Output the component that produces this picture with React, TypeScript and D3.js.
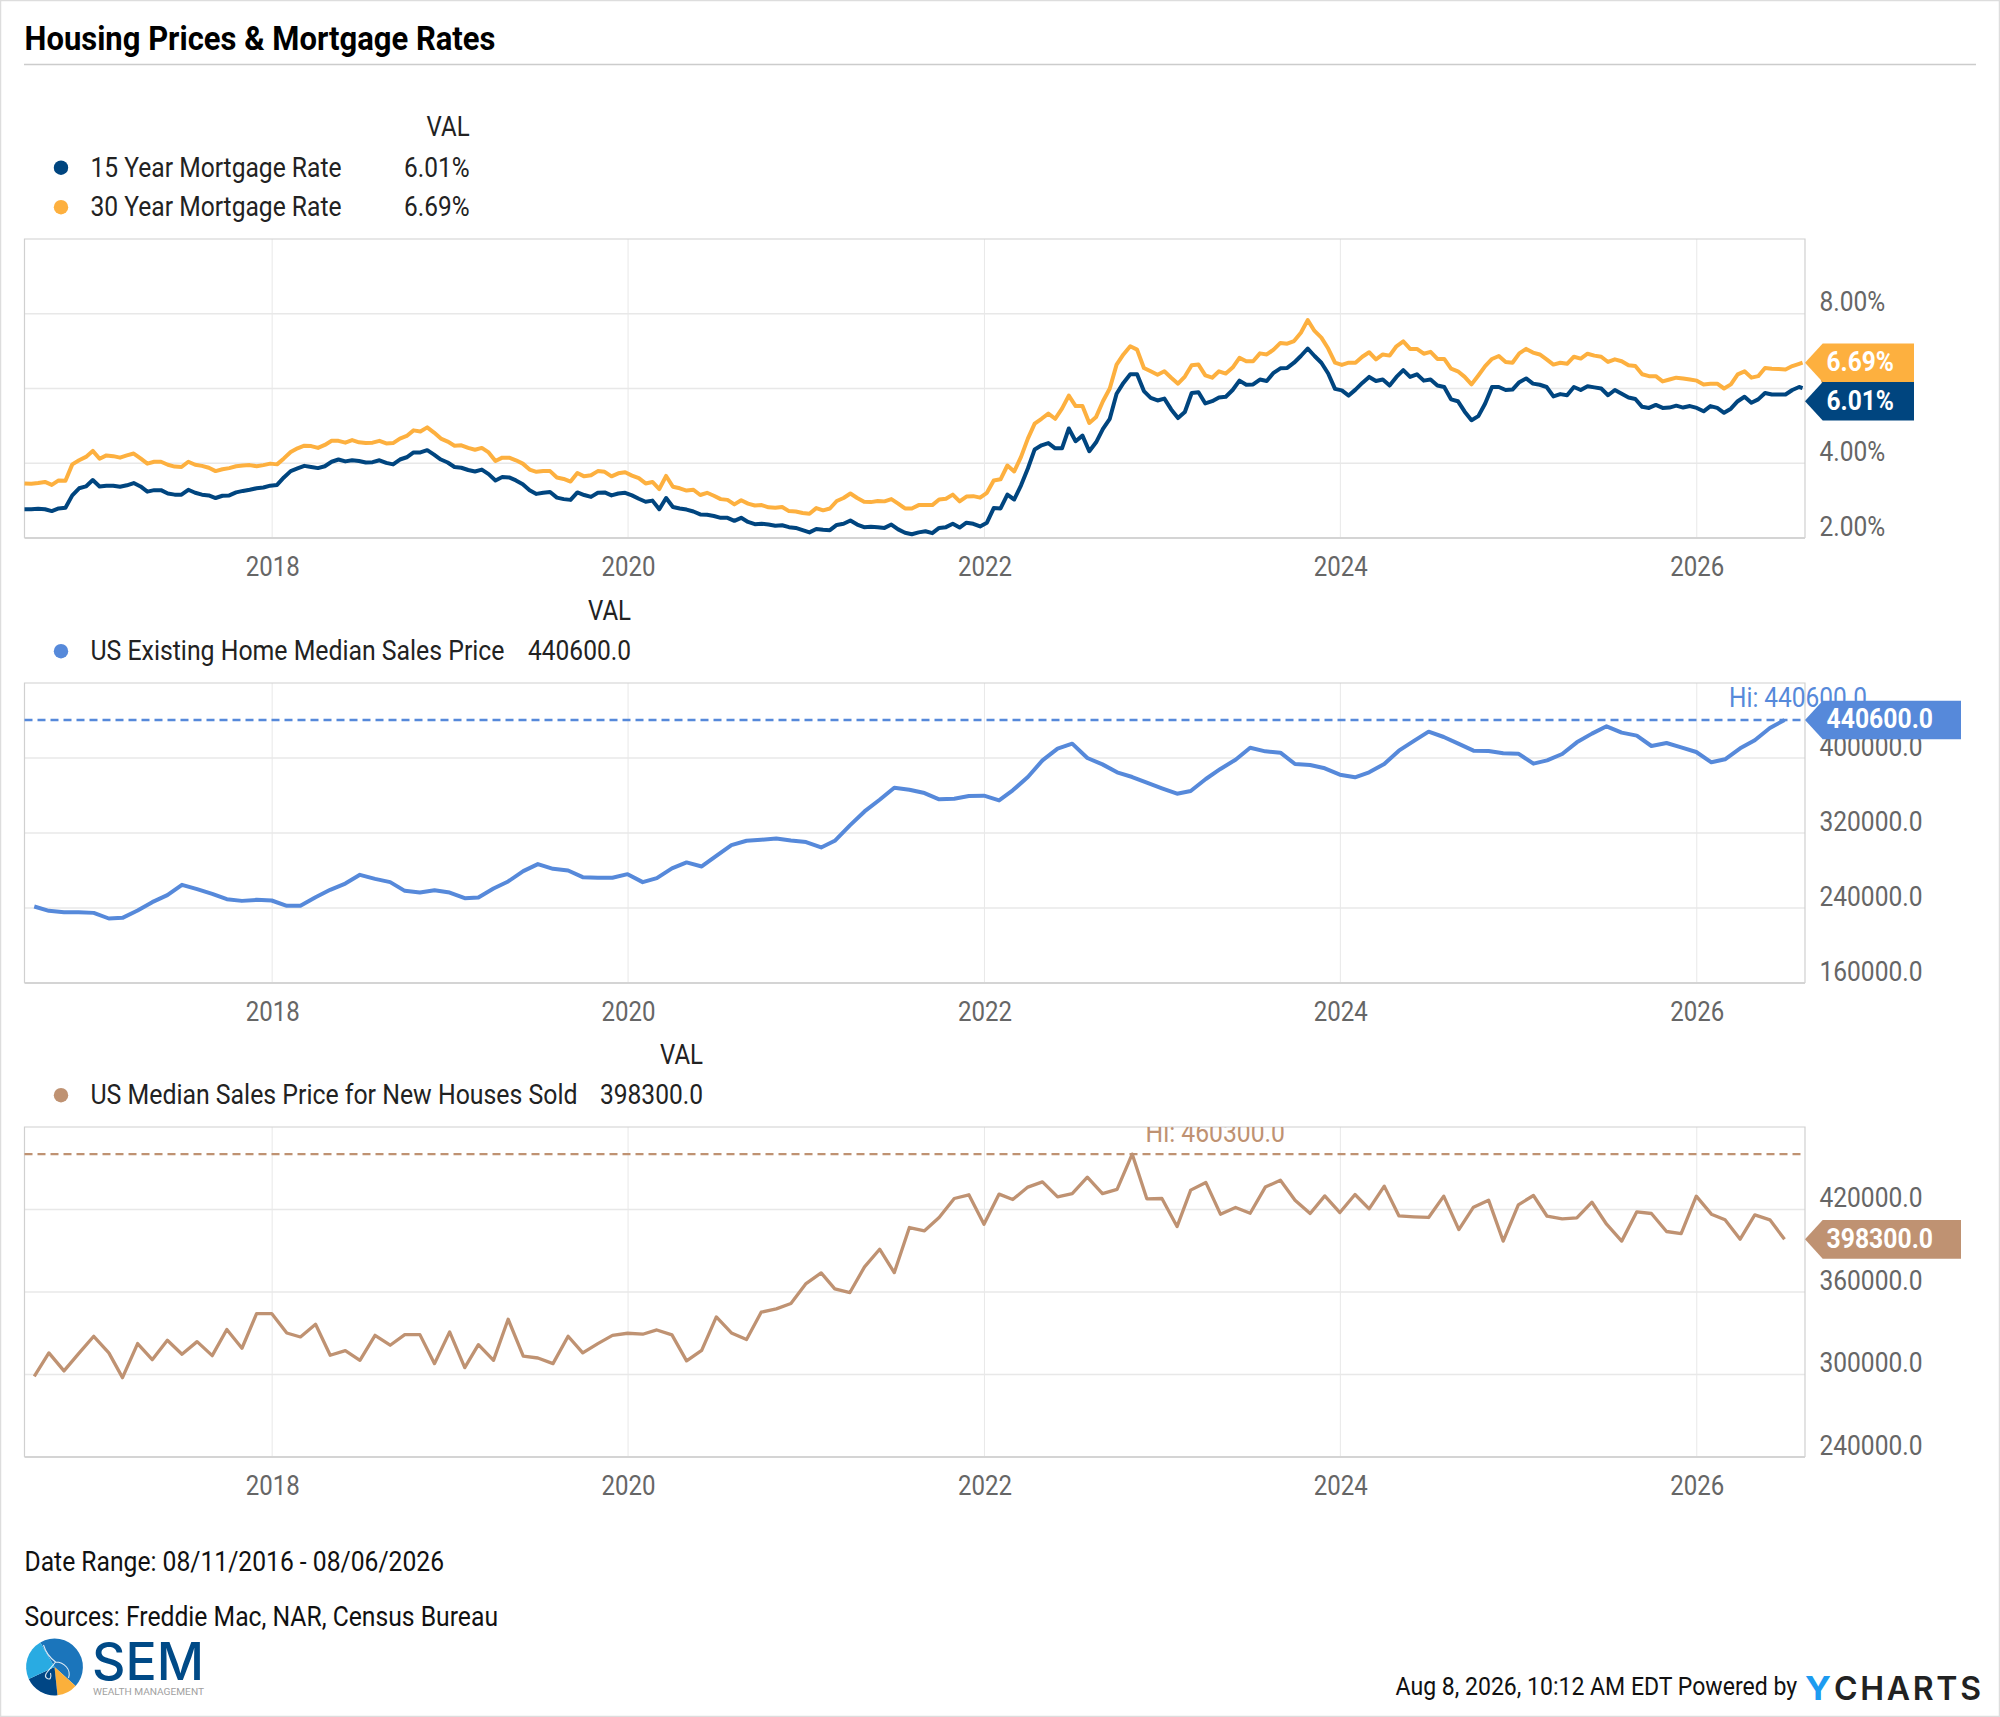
import React, { useEffect, useRef } from "react";
import * as d3 from "d3";

const rates30 = [
  3.46,3.45,3.47,3.50,3.42,3.54,3.53,3.97,4.08,4.17,4.33,4.12,4.21,4.19,4.15,4.21,4.26,4.13,3.99,4.04,4.04,3.96,3.91,3.90,4.04,3.96,3.93,3.88,3.79,3.84,
  3.87,3.92,3.94,3.95,3.92,3.95,3.99,3.97,4.13,4.30,4.40,4.47,4.46,4.41,4.49,4.60,4.60,4.55,4.62,4.56,4.54,4.55,4.60,4.53,4.54,4.66,4.73,4.88,4.85,4.96,
  4.82,4.66,4.58,4.47,4.48,4.41,4.36,4.41,4.29,4.06,4.15,4.15,4.08,3.99,3.83,3.77,3.79,3.79,3.62,3.58,3.51,3.74,3.65,3.68,3.79,3.77,3.65,3.73,3.76,3.67,
  3.60,3.46,3.50,3.31,3.66,3.37,3.33,3.27,3.29,3.15,3.21,3.13,3.04,3.02,2.90,3.01,2.92,2.87,2.88,2.82,2.81,2.83,2.72,2.71,2.67,2.65,2.80,2.74,2.79,2.99,
  3.07,3.19,3.07,2.97,2.96,2.99,2.98,3.04,2.92,2.79,2.79,2.88,2.88,2.88,3.03,3.05,3.16,2.98,3.11,3.12,3.08,3.21,3.54,3.57,3.94,3.78,4.17,4.66,5.06,
  5.19,5.33,5.19,5.46,5.81,5.53,5.53,5.08,5.24,5.66,6.00,6.64,6.91,7.13,7.04,6.55,6.46,6.37,6.46,6.29,6.13,6.32,6.62,6.64,6.35,6.29,6.46,6.40,6.56,6.82,
  6.73,6.73,6.94,6.91,7.04,7.22,7.20,7.27,7.49,7.83,7.54,7.36,7.07,6.69,6.63,6.69,6.69,6.85,6.97,6.78,6.91,6.88,7.13,7.26,7.06,7.06,6.93,6.98,6.79,6.79,
  6.53,6.46,6.31,6.11,6.35,6.60,6.79,6.87,6.71,6.69,6.94,7.06,6.96,6.91,6.78,6.64,6.69,6.66,6.85,6.80,6.93,6.88,6.85,6.71,6.78,6.73,6.62,6.60,6.38,6.33,
  6.33,6.19,6.24,6.29,6.27,6.24,6.21,6.11,6.13,6.13,6.00,6.11,6.38,6.46,6.29,6.33,6.55,6.53,6.52,6.51,6.60,6.66,6.69,
];

const rates15 = [
  2.77,2.77,2.78,2.77,2.72,2.79,2.81,3.14,3.33,3.38,3.55,3.38,3.40,3.40,3.37,3.41,3.47,3.38,3.24,3.28,3.28,3.19,3.16,3.16,3.29,3.21,3.16,3.14,3.07,3.13,
  3.14,3.22,3.26,3.29,3.33,3.35,3.40,3.42,3.62,3.79,3.86,3.93,3.90,3.87,3.92,4.04,4.10,4.05,4.08,4.06,4.02,4.03,4.08,4.01,3.97,4.10,4.16,4.29,4.29,4.35,
  4.23,4.10,4.02,3.90,3.88,3.82,3.78,3.83,3.71,3.54,3.63,3.62,3.54,3.44,3.28,3.18,3.21,3.23,3.08,3.04,3.02,3.22,3.15,3.10,3.21,3.22,3.14,3.19,3.21,3.14,
  3.05,2.97,3.00,2.77,3.07,2.83,2.79,2.76,2.71,2.63,2.62,2.59,2.54,2.54,2.46,2.54,2.43,2.37,2.38,2.36,2.33,2.34,2.29,2.27,2.21,2.15,2.24,2.22,2.21,2.35,
  2.38,2.47,2.36,2.29,2.30,2.29,2.27,2.36,2.23,2.14,2.10,2.15,2.18,2.13,2.27,2.29,2.38,2.28,2.41,2.38,2.31,2.41,2.80,2.79,3.16,3.03,3.41,3.86,4.37,
  4.48,4.54,4.40,4.40,4.93,4.59,4.74,4.32,4.56,4.92,5.19,5.86,6.15,6.38,6.38,5.93,5.75,5.68,5.73,5.44,5.21,5.37,5.88,5.90,5.60,5.66,5.76,5.78,5.96,6.21,
  6.10,6.11,6.24,6.20,6.42,6.54,6.55,6.69,6.87,7.07,6.87,6.69,6.40,5.99,5.95,5.81,5.97,6.15,6.31,6.20,6.24,6.08,6.31,6.49,6.31,6.38,6.21,6.24,6.08,6.04,
  5.71,5.66,5.38,5.15,5.26,5.60,6.04,6.04,5.96,5.97,6.17,6.27,6.13,6.10,6.04,5.79,5.85,5.82,6.04,5.96,6.06,6.03,6.00,5.82,5.96,5.86,5.76,5.72,5.51,5.48,
  5.56,5.48,5.49,5.54,5.49,5.53,5.48,5.39,5.53,5.48,5.35,5.46,5.66,5.78,5.62,5.71,5.88,5.84,5.84,5.84,5.96,6.04,6.01,
];

const existingHome = [
  241.6,237.0,235.5,235.5,234.8,228.8,229.5,237.3,246.2,253.7,264.7,260.1,255.1,249.4,247.6,248.7,248.0,242.3,242.3,251.5,
  259.4,266.1,275.4,271.1,267.6,258.3,256.5,259.0,256.5,250.5,251.2,260.8,268.3,279.3,286.8,281.8,280.0,272.9,272.2,272.2,
  276.1,267.6,271.8,282.2,288.6,284.3,295.7,307.1,311.7,312.8,314.2,312.1,310.3,304.6,311.7,328.1,343.0,355.5,368.3,366.2,
  362.6,355.9,356.6,359.4,359.8,354.8,365.5,379.7,397.5,410.0,415.3,400.0,393.2,384.7,379.7,373.7,367.6,361.9,364.8,377.6,
  388.3,398.2,411.0,407.1,405.7,393.6,392.5,389.0,382.2,379.4,384.7,393.6,407.8,418.2,428.1,422.4,415.0,407.8,407.5,405.0,
  404.6,394.0,397.5,404.3,416.7,426.0,433.8,427.1,423.9,412.8,416.0,411.4,406.4,395.4,398.6,410.3,418.9,432.0,440.6,
].map((d) => d * 1000);

const newHouses = [
  298.7,315.7,302.6,315.2,327.8,315.7,297.7,322.5,310.8,324.9,314.7,323.9,313.7,332.7,319.1,344.3,344.3,330.2,327.3,336.5,
  314.0,317.4,310.3,328.5,321.3,329.0,329.0,307.9,331.0,305.0,321.7,310.3,340.2,313.3,312.0,307.9,327.8,315.7,322.5,328.5,
  330.0,329.3,332.4,328.8,309.9,317.6,341.9,330.2,325.4,345.3,347.7,351.6,366.1,373.9,362.3,359.6,378.3,391.1,374.1,406.9,
  404.5,414.2,428.0,430.7,409.3,431.2,427.3,436.3,440.1,429.2,431.6,443.5,431.6,434.6,460.3,427.8,428.0,407.6,434.1,439.7,
  416.6,421.5,417.3,436.3,441.3,426.8,417.1,429.9,417.8,430.9,420.5,437.0,415.4,414.7,414.2,429.7,405.4,421.7,426.8,397.0,
  423.4,430.2,415.1,413.2,413.9,425.3,409.3,397.0,418.3,417.1,404.0,402.5,429.7,416.6,412.5,398.4,416.1,412.5,398.3,
].map((d) => d * 1000);

const rateTicks = [2, 4, 6, 8];
const existingTicks = [160000, 240000, 320000, 400000];
const newTicks = [240000, 300000, 360000, 420000];

const NAVY = "#00457f";
const ORANGE = "#fdb03f";
const BLUE = "#5689da";
const TAN = "#bf9272";
const AXIS_TEXT = "#666";
const GRID = "#e8e8e8";
const FONT = "Roboto, sans-serif";

const plotLeft = 24.5;
const plotRight = 1805;

const App = () => {
  const ref = useRef<SVGSVGElement>(null);

  useEffect(() => {
    const svg = d3.select(ref.current);
    svg.selectAll("*").remove();

    // roboto has no condensed cut here, so every string gets squeezed to its measured width
    const txt = (
      parent: any, s: string, x: number, y: number, w: number, size: number,
      fill: string, weight: number | string = 400, anchor = "start",
    ) =>
      parent.append("text")
        .attr("x", x).attr("y", y)
        .attr("font-family", FONT).attr("font-size", size).attr("font-weight", weight)
        .attr("fill", fill).attr("text-anchor", anchor)
        .attr("textLength", w).attr("lengthAdjust", "spacingAndGlyphs")
        .text(s);

    const x = d3.scaleTime()
      .domain([new Date(2016, 7, 11), new Date(2026, 7, 11)])
      .range([plotLeft, plotRight]);

    const rateDate = (i: number) => {
      const d = d3.timeDay.offset(new Date(2016, 7, 11), 14 * i);
      const last = new Date(2026, 7, 6);
      return d > last ? last : d;
    };
    const monthEnd = (i: number) =>
      d3.timeDay.offset(d3.timeMonth.offset(new Date(2016, 8, 1), i), -1);

    const panels = [
      {
        top: 239, bottom: 538, domain: [2, 10], ticks: rateTicks, labelW: 65.7,
        fmt: (d: number) => d.toFixed(2) + "%",
        series: [
          { values: rates30, date: rateDate, color: ORANGE, width: 4 },
          { values: rates15, date: rateDate, color: NAVY, width: 4 },
        ],
      },
      {
        top: 683, bottom: 983, domain: [160000, 480000], ticks: existingTicks, labelW: 103,
        fmt: (d: number) => d.toFixed(1),
        series: [{ values: existingHome, date: monthEnd, color: BLUE, width: 4 }],
        hi: { color: BLUE, x: 1729, w: 138, dy: -13 },
      },
      {
        top: 1127, bottom: 1457, domain: [240000, 480000], ticks: newTicks, labelW: 103,
        fmt: (d: number) => d.toFixed(1),
        series: [{ values: newHouses, date: monthEnd, color: TAN, width: 3.3 }],
        hi: { color: TAN, x: 1145.5, w: 139.5, dy: -12.5 },
      },
    ];

    svg.append("rect").attr("width", 2000).attr("height", 1717).attr("fill", "#fff");
    svg.append("rect").attr("x", 0.5).attr("y", 0.5).attr("width", 1999).attr("height", 1716)
      .attr("fill", "none").attr("stroke", "#ddd").attr("stroke-width", 1.5);

    txt(svg, "Housing Prices & Mortgage Rates", 24.5, 50, 471, 34, "#000", 700);
    svg.append("line").attr("x1", 24).attr("x2", 1976).attr("y1", 64.5).attr("y2", 64.5)
      .attr("stroke", "#ccc").attr("stroke-width", 1.3);

    const defs = svg.append("defs");

    panels.forEach((p, pi) => {
      const y = d3.scaleLinear().domain(p.domain).range([p.bottom, p.top]);
      const g = svg.append("g");

      defs.append("clipPath").attr("id", `plot-clip-${pi}`)
        .append("rect").attr("x", 0).attr("y", p.top).attr("width", 2000).attr("height", p.bottom - p.top);

      // grid
      g.selectAll(".hgrid").data(p.ticks.filter((t) => t !== p.domain[0])).enter().append("line")
        .attr("x1", plotLeft).attr("x2", plotRight)
        .attr("y1", (d: number) => y(d)).attr("y2", (d: number) => y(d))
        .attr("stroke", GRID).attr("stroke-width", 1.6);

      const xAxis = d3.axisBottom(x)
        .ticks(d3.timeYear.every(2))
        .tickSize(0).tickPadding(0)
        .tickFormat((d: any) => d3.timeFormat("%Y")(d));
      g.selectAll(".vgrid").data(x.ticks(d3.timeYear.every(2))).enter().append("line")
        .attr("x1", (d: Date) => x(d)).attr("x2", (d: Date) => x(d))
        .attr("y1", p.top).attr("y2", p.bottom)
        .attr("stroke", GRID).attr("stroke-width", 1);

      // frame
      g.append("path")
        .attr("d", `M${plotLeft},${p.bottom}V${p.top}H${plotRight}V${p.bottom}`)
        .attr("fill", "none").attr("stroke", "#d0d0d0").attr("stroke-width", 1.2);
      g.append("line").attr("x1", plotLeft).attr("x2", plotRight).attr("y1", p.bottom).attr("y2", p.bottom)
        .attr("stroke", "#d4d4d4").attr("stroke-width", 2);

      // axes
      const ax = svg.append("g").attr("transform", `translate(0,${p.bottom})`).call(xAxis as any);
      ax.select(".domain").remove();
      ax.selectAll("text")
        .attr("y", 37.5).attr("dy", 0)
        .attr("font-family", FONT).attr("font-size", 28).attr("fill", AXIS_TEXT)
        .attr("textLength", 54).attr("lengthAdjust", "spacingAndGlyphs");

      const yAxis = d3.axisRight(y).tickValues(p.ticks).tickSize(0).tickPadding(0)
        .tickFormat((d: any) => p.fmt(d));
      const ay = svg.append("g").attr("transform", `translate(1819.5,0)`).call(yAxis as any);
      ay.select(".domain").remove();
      ay.selectAll("text")
        .attr("x", 0).attr("y", -3).attr("dy", 0)
        .attr("font-family", FONT).attr("font-size", 28).attr("fill", AXIS_TEXT)
        .attr("textLength", p.labelW).attr("lengthAdjust", "spacingAndGlyphs");

      // high line and its label
      if (p.hi) {
        const hiVal = d3.max(p.series[0].values) as number;
        g.append("line").attr("x1", plotLeft).attr("x2", plotRight)
          .attr("y1", y(hiVal)).attr("y2", y(hiVal))
          .attr("stroke", p.hi.color).attr("stroke-width", 2.4).attr("stroke-dasharray", "8,5");
        txt(g, `Hi: ${hiVal.toFixed(1)}`, p.hi.x, y(hiVal) + p.hi.dy, p.hi.w, 28, p.hi.color)
          .attr("clip-path", pi === 2 ? `url(#plot-clip-${pi})` : null);
      }

      // series
      const line = d3.line<number>()
        .x((_, i) => x(p.series[0].date(i)))
        .y((d) => y(d));
      p.series.forEach((s) => {
        g.append("path")
          .attr("d", line(s.values))
          .attr("fill", "none").attr("stroke", s.color).attr("stroke-width", s.width)
          .attr("stroke-linejoin", "round");
      });
    });

    // value tags on the right edge
    const tag = (cy: number, right: number, color: string, s: string, textW: number) => {
      const h = 19.3;
      svg.append("path")
        .attr("d", `M1805,${cy}L1822.7,${cy - h}H${right}V${cy + h}H1822.7Z`)
        .attr("fill", color);
      txt(svg, s, 1826.5, cy + 8.5, textW, 28, "#fff", 700);
    };
    const yRate = d3.scaleLinear().domain([2, 10]).range([538, 239]);
    const yExisting = d3.scaleLinear().domain([160000, 480000]).range([983, 683]);
    const yNew = d3.scaleLinear().domain([240000, 480000]).range([1457, 1127]);
    const last30 = rates30[rates30.length - 1];
    const last15 = rates15[rates15.length - 1];
    const lastExisting = existingHome[existingHome.length - 1];
    const lastNew = newHouses[newHouses.length - 1];
    tag(yRate(last30), 1914, ORANGE, last30.toFixed(2) + "%", 67.5);
    tag(yRate(last30) + 38.6, 1914, NAVY, last15.toFixed(2) + "%", 67.5); // pushed down, would overlap otherwise
    tag(yExisting(lastExisting), 1961, BLUE, lastExisting.toFixed(1), 106.5);
    tag(yNew(lastNew), 1961, TAN, lastNew.toFixed(1), 106.5);

    // legends
    const legend = (
      valBase: number, right: number,
      rows: { name: string; nameW: number; value: string; valueW: number; color: string }[],
    ) => {
      txt(svg, "VAL", right, valBase, 43, 28, "#222", 400, "end");
      rows.forEach((r, i) => {
        const base = valBase + 40 * (i + 1) + (i === 0 ? 0.5 : 0);
        svg.append("ellipse").attr("cx", 61).attr("cy", base - 8.8).attr("rx", 7.2).attr("ry", 7.2).attr("fill", r.color);
        txt(svg, r.name, 90.5, base, r.nameW, 28, "#222");
        txt(svg, r.value, right, base, r.valueW, 28, "#222", 400, "end");
      });
    };
    legend(136, 469.6, [
      { name: "15 Year Mortgage Rate", nameW: 251, value: last15.toFixed(2) + "%", valueW: 65.5, color: NAVY },
      { name: "30 Year Mortgage Rate", nameW: 251, value: last30.toFixed(2) + "%", valueW: 65.5, color: ORANGE },
    ]);
    legend(619.5, 631, [
      { name: "US Existing Home Median Sales Price", nameW: 414, value: lastExisting.toFixed(1), valueW: 103, color: BLUE },
    ]);
    legend(1063.5, 703, [
      { name: "US Median Sales Price for New Houses Sold", nameW: 487, value: lastNew.toFixed(1), valueW: 103, color: TAN },
    ]);

    // footer
    txt(svg, "Date Range: 08/11/2016 - 08/06/2026", 24.5, 1571, 419.5, 27, "#111");
    txt(svg, "Sources: Freddie Mac, NAR, Census Bureau", 24.5, 1626, 473.5, 27, "#111");
    txt(svg, "Aug 8, 2026, 10:12 AM EDT Powered by", 1395.6, 1695, 401.5, 26.5, "#111");
    txt(svg, "Y", 1805, 1700, 26, 32, "#1d9bf0", 700).attr("font-family", "Inter, sans-serif");
    txt(svg, "CHARTS", 1834, 1700, 147, 32, "#222", 600)
      .attr("font-family", "Inter, sans-serif").attr("lengthAdjust", "spacing");

    // SEM logo
    const logo = svg.append("g").attr("transform", "translate(54.5,1667)");
    const arc = d3.arc<any>().innerRadius(0).outerRadius(28.4);
    const toRad = (a: number) => (a * Math.PI) / 180;
    [
      { a0: -30, a1: 132, c: "#1b75bb" },
      { a0: 132, a1: 174, c: "#fbb03b" },
      { a0: 174, a1: 245, c: "#004685" },
      { a0: 245, a1: 330, c: "#29abe2" },
    ].forEach((w) => {
      logo.append("path")
        .attr("d", arc({ startAngle: toRad(w.a0), endAngle: toRad(w.a1) }))
        .attr("fill", w.c);
    });
    logo.append("path")
      .attr("d", "M-11,-22C-8,-12 -3,-8 1,-5C-4,2 -12,8 -8,11C-4,14 -3,10 -4,6M1,-5C10,-5 17,3 14,11")
      .attr("fill", "none").attr("stroke", "#fff").attr("stroke-width", 1.1).attr("opacity", 0.85);
    txt(svg, "SEM", 92, 1680, 112, 52, "#004a87", 500).attr("font-family", "Inter, sans-serif");
    txt(svg, "WEALTH MANAGEMENT", 93, 1695, 111, 9.5, "#a0a0a0");
  }, []);

  return (
    <svg
      ref={ref}
      width={2000}
      height={1717}
      viewBox="0 0 2000 1717"
      style={{ position: "absolute", left: 0, top: 0, display: "block" }}
    />
  );
};

export default App;
